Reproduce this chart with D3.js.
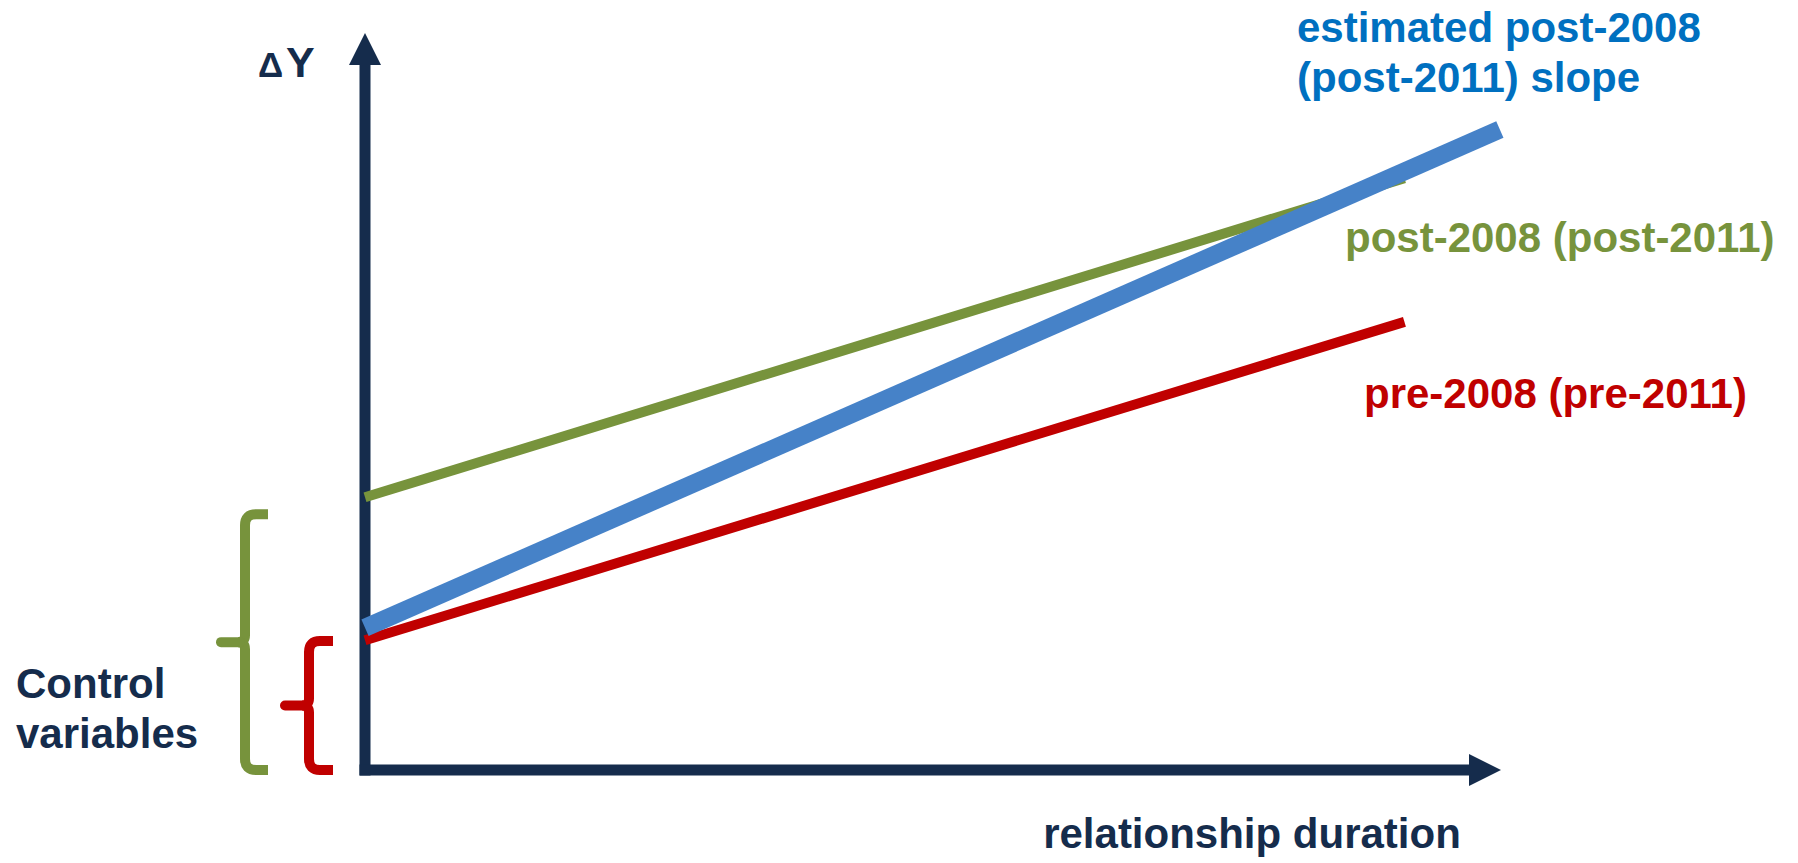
<!DOCTYPE html>
<html>
<head>
<meta charset="utf-8">
<script src="https://cdn.jsdelivr.net/npm/d3@7"></script>
<style>
  html, body { margin: 0; padding: 0; background: #ffffff; }
  svg { display: block; }
  text { font-family: "Liberation Sans", Arial, sans-serif; font-weight: bold; }
</style>
</head>
<body>
<script>
// Schematic: change in Y against relationship duration, before and after the break.
const seriesNames = ["post-2008 (post-2011)", "estimated post-2008\n(post-2011) slope", "pre-2008 (pre-2011)"];
const seriesColors = ["#77933C", "#4682C8", "#C00000"];
const seriesWidths = [10, 18, 10];
// [duration, ΔY] endpoints of each straight line
const postLine = [[0, 3.70], [9.15, 8.03]];
const estimatedLine = [[0, 1.93], [9.99, 8.69]];
const preLine = [[0, 1.76], [9.15, 6.08]];
// height (ΔY) covered by the control-variable braces: post, pre
const braceTops = [3.47, 1.75];
const braceColors = ["#77933C", "#C00000"];

const navy = "#152C4C";
const W = 1798, H = 863;

const svg = d3.select("body").append("svg").attr("width", W).attr("height", H);

const x = d3.scaleLinear().domain([0, 10]).range([365, 1501]);
const y = d3.scaleLinear().domain([0, 10]).range([770, 33]);

// Axes with arrowheads
const axisW = 11, headLen = 32, headHalf = 16;
const x0 = x(0), y0 = y(0), xMax = x(10), yMax = y(10);
svg.append("line")
  .attr("x1", x0).attr("y1", y0 + axisW / 2)
  .attr("x2", x0).attr("y2", yMax + headLen)
  .attr("stroke", navy).attr("stroke-width", axisW);
svg.append("path")
  .attr("d", `M${x0 - headHalf},${yMax + headLen}L${x0},${yMax}L${x0 + headHalf},${yMax + headLen}Z`)
  .attr("fill", navy);
svg.append("line")
  .attr("x1", x0 - axisW / 2).attr("y1", y0)
  .attr("x2", xMax - headLen).attr("y2", y0)
  .attr("stroke", navy).attr("stroke-width", axisW);
svg.append("path")
  .attr("d", `M${xMax - headLen},${y0 - headHalf}L${xMax},${y0}L${xMax - headLen},${y0 + headHalf}Z`)
  .attr("fill", navy);

// Series lines: green, red, then blue on top
const line = d3.line().x(d => x(d[0])).y(d => y(d[1]));
const order = [
  { data: postLine, i: 0 },
  { data: preLine, i: 2 },
  { data: estimatedLine, i: 1 }
];
svg.selectAll("path.series").data(order).join("path")
  .attr("class", "series")
  .attr("d", d => line(d.data))
  .attr("fill", "none")
  .attr("stroke", d => seriesColors[d.i])
  .attr("stroke-width", d => seriesWidths[d.i])
  .attr("stroke-linecap", "butt");

// Series labels
const labelG = svg.append("g").attr("font-size", 42);
labelG.append("text").attr("x", 1297).attr("y", 42).attr("fill", "#0070C0")
  .selectAll("tspan").data(seriesNames[1].split("\n")).join("tspan")
  .attr("x", 1297).attr("dy", (d, i) => i ? 50 : 0).text(d => d);
labelG.append("text").attr("x", 1345).attr("y", 252).attr("fill", seriesColors[0]).text(seriesNames[0]);
labelG.append("text").attr("x", 1364).attr("y", 408).attr("fill", seriesColors[2]).text(seriesNames[2]);

// Axis titles
const yTitle = svg.append("text").attr("fill", navy).attr("y", 77);
yTitle.append("tspan").attr("x", 258).attr("font-size", 35).text("Δ");
yTitle.append("tspan").attr("x", 286).attr("font-size", 43).text("Y");
svg.append("text").attr("x", 1252).attr("y", 848).attr("text-anchor", "middle")
  .attr("font-size", 42).attr("fill", navy).text("relationship duration");

// Control-variable braces
function bracePath(vx, top, bottom, armEnd, r) {
  const mid = (top + bottom) / 2, rm = 7;
  return `M${armEnd},${top}L${vx + r},${top}Q${vx},${top} ${vx},${top + r}` +
    `L${vx},${mid - rm}Q${vx},${mid} ${vx - rm},${mid}` +
    `M${vx - rm},${mid}Q${vx},${mid} ${vx},${mid + rm}` +
    `L${vx},${bottom - r}Q${vx},${bottom} ${vx + r},${bottom}L${armEnd},${bottom}`;
}
const braceGeom = [
  { vx: 245, armEnd: 268, tip: 221 },
  { vx: 309, armEnd: 333, tip: 285 }
];
braceTops.forEach((t, i) => {
  const g = braceGeom[i];
  const top = y(t), bottom = y(0);
  svg.append("path").attr("d", bracePath(g.vx, top, bottom, g.armEnd, 11))
    .attr("fill", "none").attr("stroke", braceColors[i]).attr("stroke-width", 10);
  svg.append("line")
    .attr("x1", g.vx - 5).attr("x2", g.tip)
    .attr("y1", (top + bottom) / 2).attr("y2", (top + bottom) / 2)
    .attr("stroke", braceColors[i]).attr("stroke-width", 10).attr("stroke-linecap", "round");
});

const ctrl = svg.append("text").attr("font-size", 42).attr("fill", navy);
ctrl.append("tspan").attr("x", 16).attr("y", 698).text("Control");
ctrl.append("tspan").attr("x", 16).attr("y", 748).text("variables");
</script>
</body>
</html>
